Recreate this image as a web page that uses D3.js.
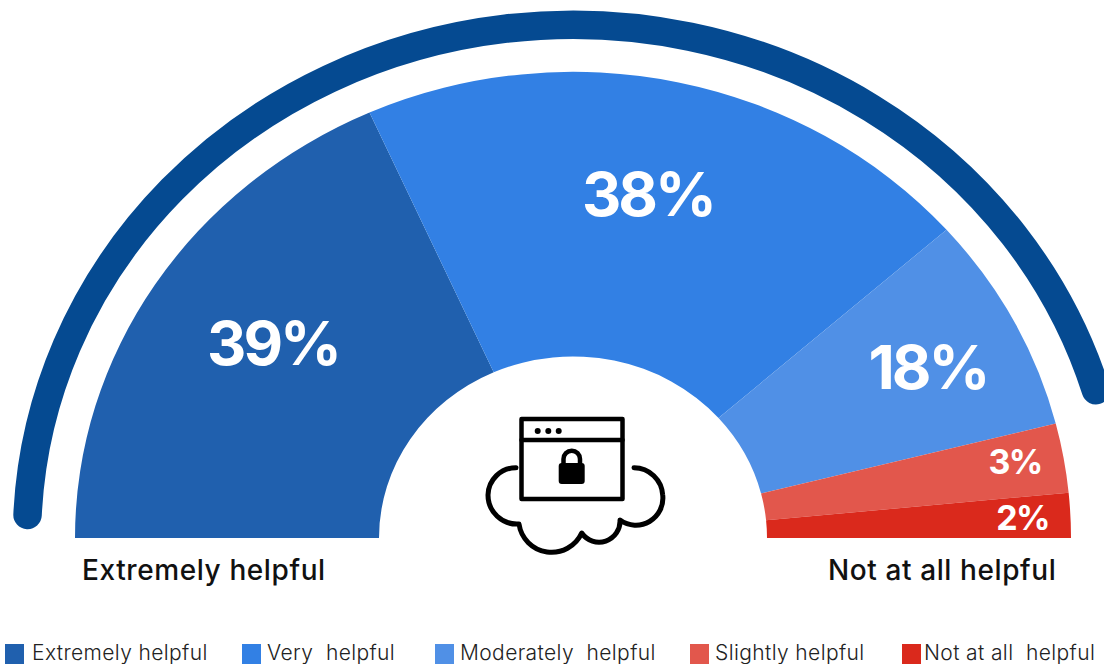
<!DOCTYPE html>
<html><head><meta charset="utf-8">
<script src="https://cdn.jsdelivr.net/npm/d3@7/dist/d3.min.js"></script>
<style>html,body{margin:0;padding:0;background:#fff}svg{display:block}text{font-family:Inter,sans-serif}</style>
</head><body><svg id="c" width="1104" height="664"></svg>
<script>
const categories = ["Extremely helpful","Very  helpful","Moderately  helpful","Slightly helpful","Not at all  helpful"];
const labels = ["39%","38%","18%","3%","2%"];
const arcShares = [36.6,40.4,15.1,4.8,3.1];
const colors = ["#2060AE","#3280E4","#5090E6","#E2574C","#DA291C"];
const labelPos = [[273,343,61],[648,194,61],[928,367,61],[1015,461,34],[1022.5,517,34]];
const legendX = [5,242,435,690,902];
const legendTextX = [32,267,460,715,924];
const endLabels = [["Extremely helpful",82],["Not at all helpful",828]];

const svg = d3.select("#c");
const cx=573, cy=538, sy=0.936;
const g = svg.append("g").attr("transform",`translate(${cx},${cy}) scale(1,${sy})`);
const pie = d3.pie().sort(null).startAngle(-Math.PI/2).endAngle(Math.PI/2);
const arc = d3.arc().innerRadius(194).outerRadius(498);
g.selectAll("path.s").data(pie(arcShares)).join("path").attr("class","s")
  .attr("d",arc).attr("fill",(d,i)=>colors[i]);

const g2 = svg.append("g").attr("transform",`translate(${cx},${cy}) scale(1,0.94)`);
const p = d3.path();
p.arc(0,0,546,Math.PI+0.045,2*Math.PI-0.292);
g2.append("path").attr("d",p.toString()).attr("fill","none").attr("stroke","#054A91")
  .attr("stroke-width",28.5).attr("stroke-linecap","round").attr("vector-effect","non-scaling-stroke");

svg.selectAll("text.v").data(labels).join("text").attr("class","v")
  .attr("x",(d,i)=>labelPos[i][0]).attr("y",(d,i)=>labelPos[i][1])
  .attr("font-size",(d,i)=>labelPos[i][2]).attr("font-weight",700).attr("fill","#fff")
  .attr("letter-spacing",(d,i)=>-0.05*labelPos[i][2])
  .attr("text-anchor","middle").attr("dominant-baseline","central").text(d=>d);

svg.selectAll("text.e").data(endLabels).join("text").attr("class","e")
  .attr("x",d=>d[1]).attr("y",580).attr("font-size",28).attr("font-weight",500)
  .attr("letter-spacing",0.6).attr("fill","#111").text(d=>d[0]);

svg.selectAll("rect.k").data(categories).join("rect").attr("class","k")
  .attr("x",(d,i)=>legendX[i]).attr("y",644).attr("width",19).attr("height",20).attr("fill",(d,i)=>colors[i]);
svg.selectAll("text.k").data(categories).join("text").attr("class","k")
  .attr("x",(d,i)=>legendTextX[i]).attr("y",660).attr("font-size",21).attr("font-weight",300)
  .attr("letter-spacing",0.38).attr("fill","#222").style("white-space","pre").text(d=>d);

const ic = svg.append("g").attr("fill","none").attr("stroke","#000").attr("stroke-width",4.5)
  .attr("stroke-linecap","round").attr("stroke-linejoin","round");
ic.append("rect").attr("x",521.5).attr("y",419).attr("width",101).attr("height",80);
ic.append("path").attr("d","M521.5 440H622.5");
[537.7,548.3,558.7].forEach(x=>svg.append("circle").attr("cx",x).attr("cy",431).attr("r",3).attr("fill","#000"));
svg.append("rect").attr("x",558.7).attr("y",463).attr("width",26).attr("height",21).attr("rx",3).attr("fill","#000");
ic.append("path").attr("d","M563.5 464V459A8 8 0 0 1 580 459V464");
ic.append("path").attr("stroke-width",5).attr("d","M516 467.7A28 28 0 0 0 488 495A29 29 0 0 0 519 524A33 33 0 0 0 581.7 533A21 21 0 0 0 620 520A27 27 0 0 0 662.7 495A29 29 0 0 0 634 467.7");
</script></body></html>
